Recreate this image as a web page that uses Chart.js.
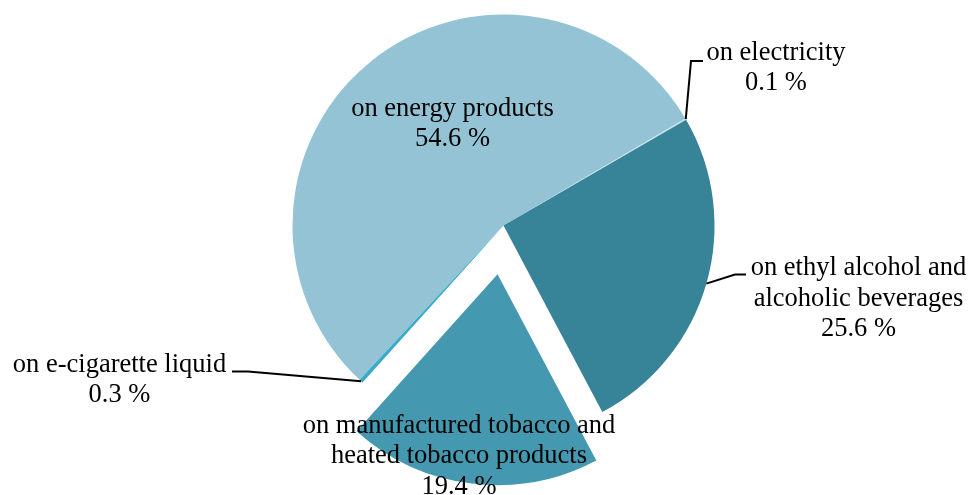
<!DOCTYPE html>
<html>
<head>
<meta charset="utf-8">
<script src="https://cdn.jsdelivr.net/npm/chart.js@4/dist/chart.umd.min.js"></script>
<style>
  html, body { margin: 0; padding: 0; background: #ffffff; }
  #wrap { width: 970px; height: 495px; }
</style>
</head>
<body>
<div id="wrap"><canvas id="c" width="970" height="495"></canvas></div>
<script>
// ---- data ----
const categories = [
  "on energy products",
  "on electricity",
  "on ethyl alcohol and alcoholic beverages",
  "on manufactured tobacco and heated tobacco products",
  "on e-cigarette liquid"
];
const shares = [54.6, 0.1, 25.6, 19.4, 0.3];
const valueLabels = ["54.6 %", "0.1 %", "25.6 %", "19.4 %", "0.3 %"];
const labelLines = [
  ["on energy products"],
  ["on electricity"],
  ["on ethyl alcohol and", "alcoholic beverages"],
  ["on manufactured tobacco and", "heated tobacco products"],
  ["on e-cigarette liquid"]
];
const explodedIndex = 3;

// ---- styles / layout ----
const colors = ["#93c3d5", "#c4e0ea", "#378398", "#4499b0", "#3aaacb"];
const explodeDistance = 49;
const FONT = '26.5px "Liberation Serif", "Times New Roman", serif';
const LINE_H = 30.5;
// text anchor (center x, first baseline y) and leader elbow/end points per slice
const labelLayout = [
  { x: 452.5, y: 115.5, leader: null },
  { x: 776, y: 59.5, leader: [[691, 61], [703, 61]] },
  { x: 858.5, y: 275, leader: [[735, 274.5], [746, 274.5]] },
  { x: 459, y: 432.5, leader: null },
  { x: 119.5, y: 371.5, leader: [[248, 371.5], [232, 371.5]] }
];

const explodePlugin = {
  id: 'explode',
  afterDatasetUpdate(chart, args) {
    const meta = chart.getDatasetMeta(args.index);
    const arc = meta.data[explodedIndex];
    if (!arc || arc._exploded) return;
    const mid = (arc.startAngle + arc.endAngle) / 2;
    arc.x += Math.cos(mid) * explodeDistance;
    arc.y += Math.sin(mid) * explodeDistance;
    arc._exploded = true;
  }
};

const labelPlugin = {
  id: 'sliceLabels',
  afterDatasetsDraw(chart) {
    const ctx = chart.ctx;
    const meta = chart.getDatasetMeta(0);
    ctx.save();
    // leader lines
    ctx.strokeStyle = '#000';
    ctx.lineWidth = 2;
    ctx.lineJoin = 'miter';
    meta.data.forEach((arc, i) => {
      const lay = labelLayout[i];
      if (!lay.leader) return;
      const mid = (arc.startAngle + arc.endAngle) / 2;
      const sx = arc.x + Math.cos(mid) * arc.outerRadius;
      const sy = arc.y + Math.sin(mid) * arc.outerRadius;
      ctx.beginPath();
      ctx.moveTo(sx, sy);
      lay.leader.forEach(p => ctx.lineTo(p[0], p[1]));
      ctx.stroke();
    });
    // texts
    ctx.fillStyle = '#000';
    ctx.font = FONT;
    ctx.textAlign = 'center';
    ctx.textBaseline = 'alphabetic';
    labelLines.forEach((lines, i) => {
      const lay = labelLayout[i];
      const all = lines.concat([valueLabels[i]]);
      all.forEach((t, k) => ctx.fillText(t, lay.x, lay.y + k * LINE_H));
    });
    ctx.restore();
  }
};

new Chart(document.getElementById('c'), {
  type: 'pie',
  data: {
    labels: categories,
    datasets: [{
      data: shares,
      backgroundColor: colors,
      borderWidth: 0
    }]
  },
  options: {
    responsive: false,
    animation: false,
    events: [],
    rotation: 223,
    radius: 211,
    layout: { padding: { left: 37, right: 0, top: 0, bottom: 44 } },
    plugins: {
      legend: { display: false },
      tooltip: { enabled: false }
    }
  },
  plugins: [explodePlugin, labelPlugin]
});
</script>
</body>
</html>
